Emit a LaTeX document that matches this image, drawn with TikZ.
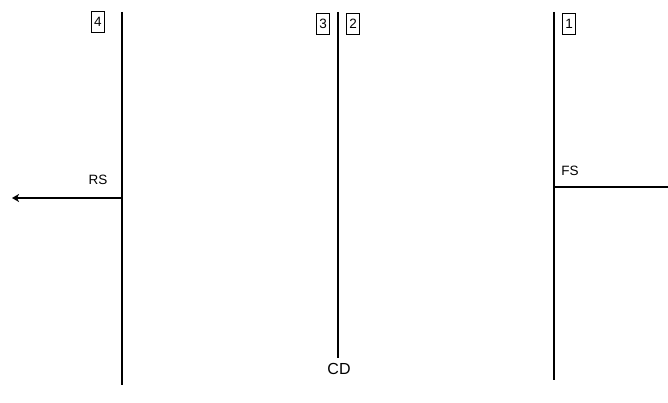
\documentclass[tikz,border=0pt]{standalone}
\usepackage{fontspec}
\setmainfont{Liberation Sans}
\usetikzlibrary{positioning,arrows.meta}

\begin{document}
\begin{tikzpicture}[x=1pt, y=-1pt, every node/.style={font=\fontsize{13.5}{15}\selectfont},
    lane/.style={line width=1.3pt},
    tag/.style={draw, line width=0.8pt, inner sep=1pt, minimum width=13pt, minimum height=21pt}]
    \useasboundingbox (0,0) rectangle (668,403);

    % lanes
    \coordinate (l4top) at (122,12);
    \coordinate (l4bot) at (122,385);
    \coordinate (l3top) at (338,12);
    \coordinate (l3bot) at (338,358);
    \coordinate (l1top) at (554,12);
    \coordinate (l1bot) at (554,380);
    \draw[lane] (l4top) -- (l4bot);
    \draw[lane] (l3top) -- (l3bot);
    \draw[lane] (l1top) -- (l1bot);

    \node[tag] (t4) at (98,22) {4};
    \node[tag] (t3) at (323,24) {3};
    \node[tag] (t2) at (353,24) {2};
    \node[tag] (t1) at (569,24) {1};

    \node[font=\fontsize{16}{18}\selectfont] (cd) at (339,369) {CD};

    % signals
    \coordinate (rsfrom) at (122,198);
    \coordinate (rsto) at (12,198);
    \draw[lane, -{Stealth[length=7pt,width=8pt,inset=2pt]}] (rsfrom) -- (rsto);
    \node (rs) at (98,180) {RS};

    \coordinate (fsfrom) at (554,187);
    \coordinate (fsto) at (668,187);
    \draw[lane] (fsfrom) -- (fsto);
    \node (fs) at (570,171) {FS};
\end{tikzpicture}
\end{document}
